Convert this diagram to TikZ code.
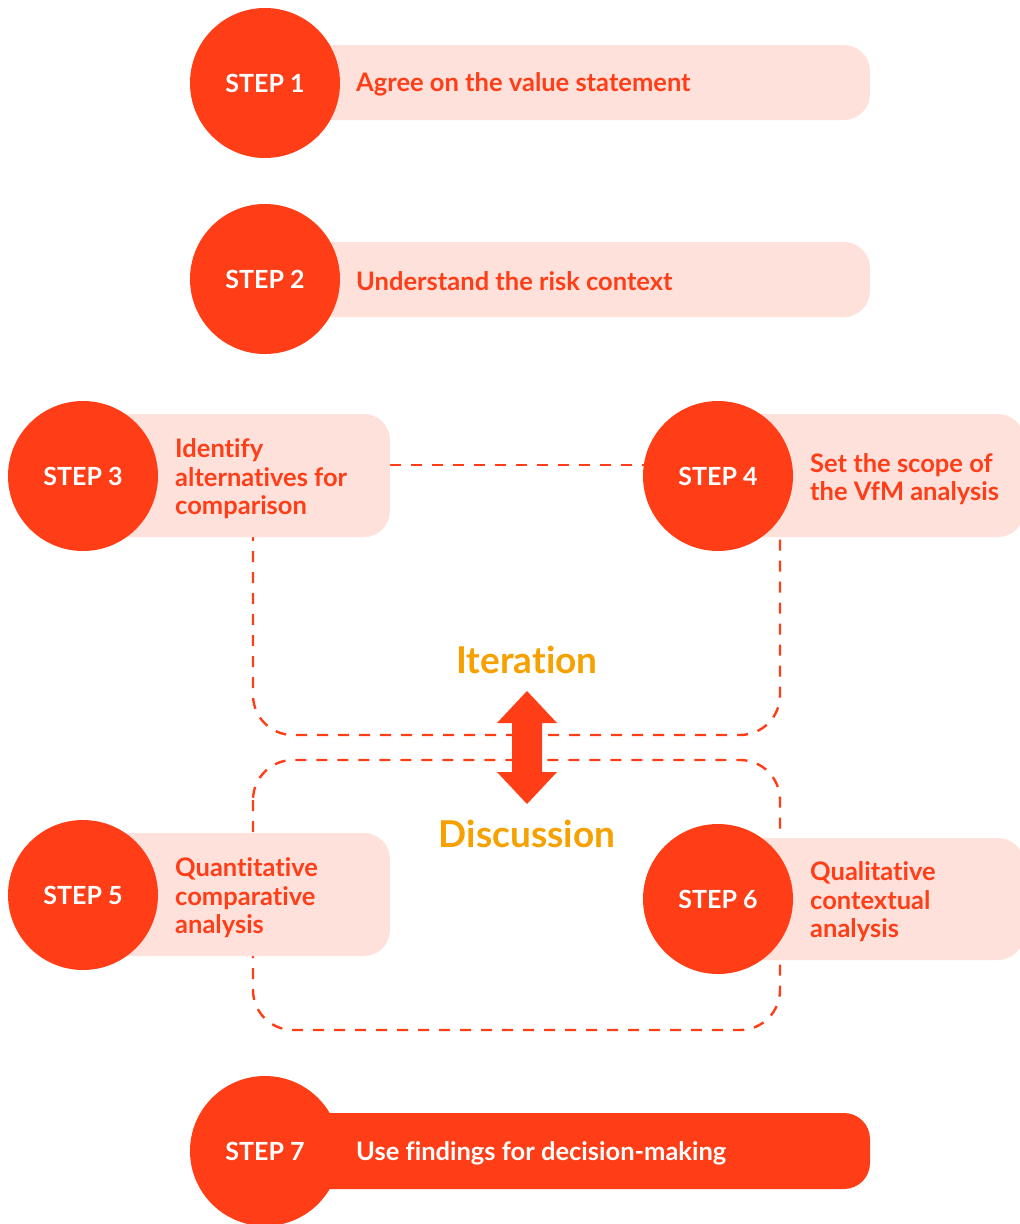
\documentclass[tikz,border=0pt]{standalone}
\usepackage{fontspec}
\setmainfont{Lato}[Ligatures={NoCommon,NoRequired}]
\definecolor{stepred}{HTML}{FF3D17}
\definecolor{barpink}{HTML}{FFE1DC}
\definecolor{amber}{HTML}{F7A100}
\begin{document}
\begin{tikzpicture}[x=1pt,y=-1pt,
  stepcircle/.style={circle, fill=stepred, minimum size=150, inner sep=0,
    text=white, font=\bfseries\fontsize{25}{29}\selectfont},
  barbox/.style={rectangle, fill=barpink, rounded corners=26, inner sep=0},
  bartext/.style={anchor=west, align=left, text=stepred, inner sep=0,
    font=\bfseries\fontsize{25.5}{28.5}\selectfont},
  dashline/.style={draw=stepred, line width=2.4, dash pattern=on 11 off 10},
  bigword/.style={text=amber, font=\bfseries\fontsize{37}{42}\selectfont}]
\useasboundingbox (0,0) rectangle (1020,1224);

% dashed connectors (behind everything)
\coordinate (d1) at (390,465);
\coordinate (d2) at (700,465);
\coordinate (u1) at (253,530);
\coordinate (u2) at (780,530);
\draw[dashline] (d1) -- (d2);
\draw[dashline, rounded corners=40] (u1) -- (253,735) -- (780,735) -- (u2);
\draw[dashline, rounded corners=40] (253,760) rectangle (780,1030);

% double arrow
\fill[stepred] (527,691) -- (557,723) -- (542,723) -- (542,772) -- (557,772)
  -- (527,804) -- (497,772) -- (512,772) -- (512,723) -- (497,723) -- cycle;

\node[bigword] (iter) at (527,660) {Iteration};
\node[bigword] (disc) at (527,834) {Discussion};

% bars
\node[barbox, minimum width=605, minimum height=75] (b1) at (567.5,82.5) {};
\node[barbox, minimum width=605, minimum height=75] (b2) at (567.5,279.5) {};
\node[barbox, minimum width=307, minimum height=123] (b3) at (236.5,475.5) {};
\node[barbox, minimum width=306, minimum height=123] (b4) at (871,475.5) {};
\node[barbox, minimum width=307, minimum height=123] (b5) at (236.5,894.5) {};
\node[barbox, minimum width=306, minimum height=122] (b6) at (871,899) {};
\node[barbox, fill=stepred, minimum width=605, minimum height=76] (b7) at (567.5,1151) {};

% circles
\node[stepcircle] (c1) at (265,83) {STEP 1};
\node[stepcircle] (c2) at (265,279) {STEP 2};
\node[stepcircle] (c3) at (83,476) {STEP 3};
\node[stepcircle] (c4) at (718,476) {STEP 4};
\node[stepcircle] (c5) at (83,895) {STEP 5};
\node[stepcircle] (c6) at (718,899) {STEP 6};
\node[stepcircle] (c7) at (265,1151) {STEP 7};

% bar texts
\node[bartext] (t1) at (356,84) {Agree on the value statement};
\node[bartext] (t2) at (356,281) {Understand the risk context};
\node[bartext] (t3) at (175,479) {Identify\\alternatives for\\comparison};
\node[bartext] (t4) at (810,479) {Set the scope of\\the VfM analysis};
\node[bartext] (t5) at (175,898) {Quantitative\\comparative\\analysis};
\node[bartext] (t6) at (810,902) {Qualitative\\contextual\\analysis};
\node[bartext, text=white] (t7) at (356,1153) {Use findings for decision-making};
\end{tikzpicture}
\end{document}
